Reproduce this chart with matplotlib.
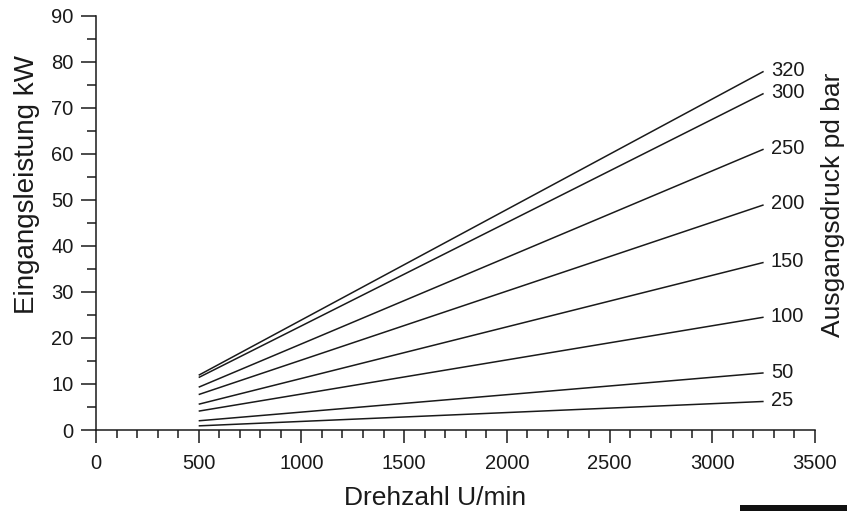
import numpy as np
import matplotlib
matplotlib.use("Agg")
import matplotlib.pyplot as plt
from matplotlib.patches import Rectangle
from matplotlib.ticker import MultipleLocator

plt.rcParams['font.family'] = ['Liberation Sans', 'DejaVu Sans']

# Ausgangsdruck (bar) und Eingangsleistung (kW) bei 500 und 3250 U/min
drehzahl = [500, 3250]
druck = [320, 300, 250, 200, 150, 100, 50, 25]
leistung_start = [11.9, 11.4, 9.3, 7.7, 5.6, 4.1, 2.0, 0.9]
leistung_ende = [77.9, 73.1, 61.0, 48.9, 36.4, 24.5, 12.4, 6.2]

fig = plt.figure(figsize=(8.47, 5.11), dpi=100)
ax = fig.add_axes([0.1133, 0.1585, 0.8489, 0.8108])

farbe = '#1a1a1a'

for p, y0, y1 in zip(druck, leistung_start, leistung_ende):
    ax.plot(drehzahl, [y0, y1], color=farbe, linewidth=1.1, solid_capstyle='butt')
    ax.text(drehzahl[1] + 35, y1 + 0.2, str(p), fontsize=14.5, va='center', ha='left',
            color=farbe)

ax.set_xlim(0, 3500)
ax.set_ylim(0, 90)
ax.xaxis.set_major_locator(MultipleLocator(500))
ax.xaxis.set_minor_locator(MultipleLocator(100))
ax.yaxis.set_major_locator(MultipleLocator(10))
ax.yaxis.set_minor_locator(MultipleLocator(5))

for s in ['top', 'right']:
    ax.spines[s].set_visible(False)
for s in ['left', 'bottom']:
    ax.spines[s].set_linewidth(1.1)
    ax.spines[s].set_color(farbe)

ax.tick_params(which='both', width=1.1, colors=farbe, labelsize=14.5)
ax.tick_params(axis='x', which='major', length=9.5, pad=8)
ax.tick_params(axis='x', which='minor', length=5.5)
ax.tick_params(axis='y', which='major', length=11, pad=5)
ax.tick_params(axis='y', which='minor', length=6.5)

# Achsbeschriftungen
fig.text(435 / 847, 1 - 505 / 511, 'Drehzahl U/min', fontsize=19, ha='center',
         va='baseline', color=farbe)
fig.text(27 / 847, 1 - 185 / 511, 'Eingangsleistung kW', rotation=90, fontsize=20,
         ha='center', va='center', color=farbe)
fig.text(833 / 847, 1 - 205 / 511, 'Ausgangsdruck pd bar', rotation=90, fontsize=19,
         ha='center', va='center', color=farbe)

# schwarzer Balken unten rechts
fig.patches.append(Rectangle((740 / 847, 0), 107 / 847, 6 / 511, transform=fig.transFigure,
                             facecolor='#111111', edgecolor='none'))

fig.savefig('out.png', dpi=100)
